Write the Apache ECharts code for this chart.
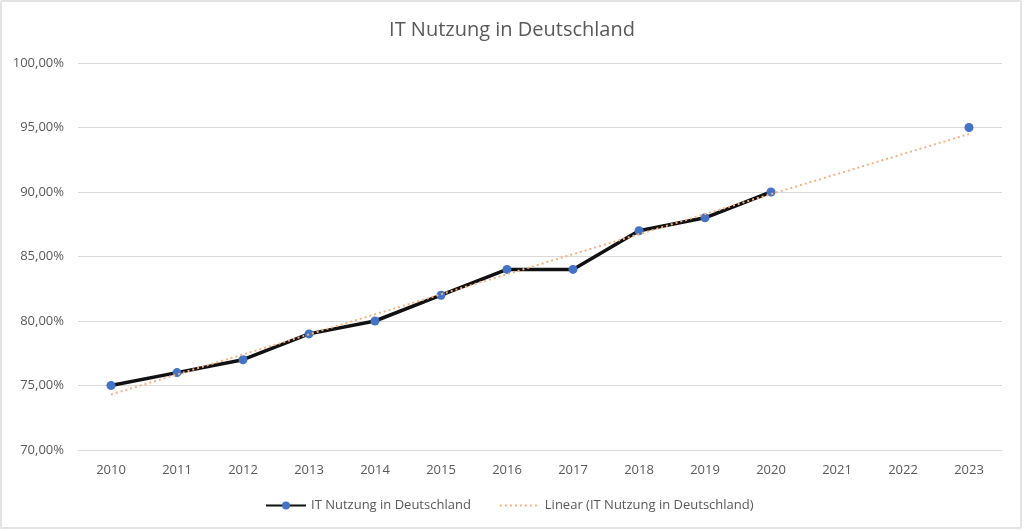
<!DOCTYPE html>
<html><head><meta charset="utf-8">
<script src="https://cdn.jsdelivr.net/npm/echarts@6/dist/echarts.min.js"></script>
<style>
html,body{margin:0;padding:0;background:#fff;}
#frame{position:absolute;left:0;top:0;width:1018px;height:525px;border:2px solid #e3e3e3;border-radius:2px;}
#c{position:absolute;left:0;top:0;width:1024px;height:531px;}
</style></head>
<body><div id="frame"></div><div id="c"></div>
<script>
const categories = ['2010','2011','2012','2013','2014','2015','2016','2017','2018','2019','2020','2021','2022','2023'];
const usage = [75,76,77,79,80,82,84,84,87,88,90,null,null,95];
// trendline endpoints (2010 and 2023)
const trend = [74.3,null,null,null,null,null,null,null,null,null,null,null,null,94.5];
const yTicks = [70,75,80,85,90,95,100];

const font = '"Open Sans", "Noto Sans", sans-serif';
const chart = echarts.init(document.getElementById('c'));
chart.setOption({
  animation:false,
  title:{text:'IT Nutzung in Deutschland',left:'center',top:15,
    textStyle:{fontFamily:font,fontSize:20,fontWeight:'normal',color:'#595959'}},
  grid:{left:78,right:22,top:63,bottom:81},
  xAxis:{type:'category',data:categories,boundaryGap:true,
    axisLine:{show:true,lineStyle:{color:'#d9d9d9'}},axisTick:{show:false},
    axisLabel:{fontFamily:font,fontSize:13,color:'#595959',margin:14}},
  yAxis:{type:'value',min:yTicks[0],max:yTicks[yTicks.length-1],interval:5,
    axisLine:{show:false},axisTick:{show:false},
    splitLine:{lineStyle:{color:'#d9d9d9',width:1}},
    axisLabel:{fontFamily:font,fontSize:13,color:'#595959',margin:14,
      formatter:v=>v.toFixed(2).replace('.',',')+'%'}},
  legend:{bottom:14,left:260,itemGap:28,itemWidth:40,itemHeight:10,
    textStyle:{fontFamily:font,fontSize:13,color:'#595959'},
    data:[{name:'IT Nutzung in Deutschland'},
          {name:'Linear (IT Nutzung in Deutschland)',itemStyle:{color:'rgba(0,0,0,0)',borderWidth:0}}]},
  series:[
    {name:'Linear (IT Nutzung in Deutschland)',type:'line',data:trend,connectNulls:true,
      symbol:'none',z:3,
      lineStyle:{color:'#f4b183',width:2,type:[2,3]},itemStyle:{color:'#f4b183'}},
    {name:'IT Nutzung in Deutschland',type:'line',data:usage,connectNulls:false,
      symbol:'circle',symbolSize:9,z:2,
      lineStyle:{color:'#111',width:3.5},itemStyle:{color:'#4472c4'}}
  ]
});
</script></body></html>
